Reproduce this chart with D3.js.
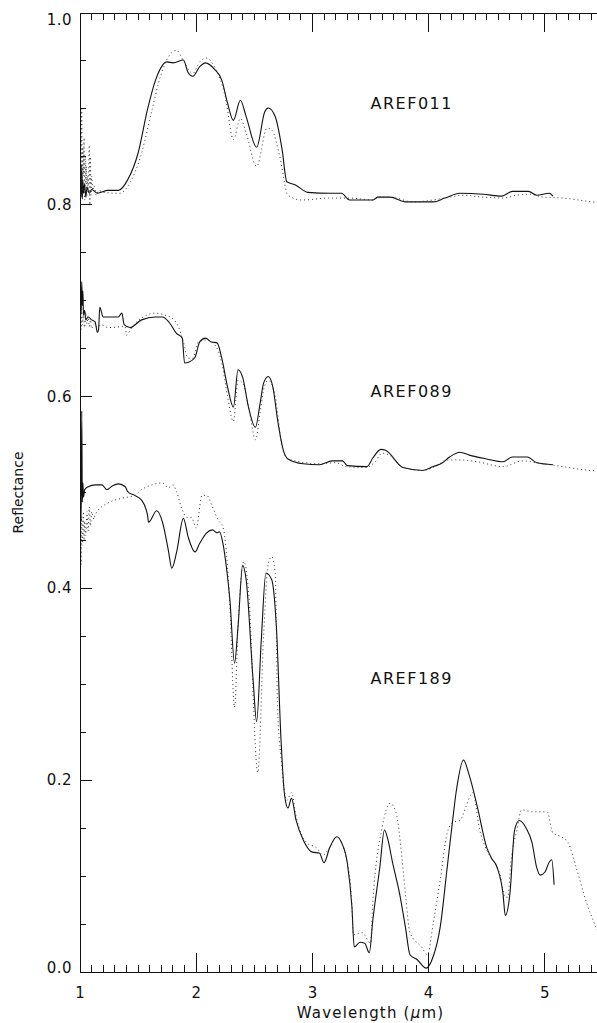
<!DOCTYPE html>
<html>
<head>
<meta charset="utf-8">
<script src="https://cdn.jsdelivr.net/npm/d3@7"></script>
<style>
    body { margin: 0; background: #fff; }
    svg text { font-family: "DejaVu Sans", "Liberation Sans", sans-serif; fill: #111; }
</style>
</head>
<body>
<svg id="chart" width="597" height="1023"></svg>
<script>
// data: [wavelength (um), reflectance]
const aref011Solid = [
    [1.00,0.800],[1.005,0.830],[1.01,0.808],[1.015,0.842],[1.02,0.806],[1.025,0.826],[1.03,0.812],[1.04,0.822],
    [1.05,0.808],[1.06,0.818],[1.08,0.812],[1.10,0.816],[1.15,0.812],[1.24,0.815],[1.33,0.815],[1.41,0.826],
    [1.50,0.854],[1.58,0.899],[1.65,0.930],[1.75,0.949],[1.80,0.948],[1.89,0.951],[1.93,0.938],[1.97,0.934],
    [2.03,0.944],[2.08,0.948],[2.16,0.941],[2.22,0.930],[2.27,0.906],[2.32,0.888],[2.38,0.909],[2.43,0.892],
    [2.52,0.860],[2.59,0.897],[2.62,0.901],[2.68,0.892],[2.74,0.857],[2.78,0.824],[2.85,0.821],[2.96,0.813],
    [3.15,0.812],[3.25,0.812],[3.32,0.805],[3.52,0.805],[3.56,0.808],[3.67,0.808],[3.80,0.803],[3.91,0.803],
    [4.04,0.803],[4.14,0.807],[4.27,0.812],[4.47,0.811],[4.63,0.809],[4.72,0.814],[4.86,0.814],[4.93,0.810],
    [5.04,0.812],[5.07,0.809]
];
const aref011Dotted = [
    [1.00,0.840],[1.005,0.880],[1.01,0.820],[1.015,0.900],[1.02,0.810],[1.025,0.860],[1.03,0.830],[1.035,0.870],
    [1.04,0.805],[1.045,0.850],[1.05,0.820],[1.055,0.840],[1.06,0.810],[1.065,0.830],[1.07,0.815],[1.08,0.862],
    [1.085,0.800],[1.09,0.850],[1.095,0.810],[1.10,0.830],[1.11,0.815],[1.12,0.820],[1.14,0.810],[1.16,0.815],
    [1.20,0.813],[1.34,0.812],[1.43,0.823],[1.53,0.854],[1.62,0.899],[1.69,0.933],[1.76,0.954],[1.83,0.961],
    [1.90,0.948],[1.97,0.937],[2.03,0.949],[2.09,0.953],[2.16,0.943],[2.25,0.913],[2.32,0.868],[2.38,0.890],
    [2.43,0.875],[2.52,0.840],[2.61,0.880],[2.65,0.878],[2.72,0.850],[2.79,0.810],[2.91,0.805],[3.14,0.807],
    [3.32,0.807],[3.52,0.805],[3.58,0.808],[3.72,0.807],[3.86,0.803],[4.04,0.805],[4.18,0.808],[4.29,0.810],
    [4.47,0.808],[4.64,0.807],[4.76,0.810],[4.87,0.811],[4.98,0.808],[5.16,0.807],[5.41,0.803],[5.50,0.802]
];
const aref089Solid = [
    [1.00,0.690],[1.005,0.700],[1.01,0.686],[1.015,0.720],[1.02,0.695],[1.025,0.710],[1.03,0.685],[1.04,0.690],
    [1.05,0.680],[1.07,0.683],[1.10,0.680],[1.13,0.678],[1.15,0.667],[1.16,0.670],[1.17,0.693],[1.20,0.683],
    [1.33,0.683],[1.36,0.687],[1.38,0.675],[1.43,0.672],[1.53,0.680],[1.65,0.683],[1.71,0.683],[1.77,0.677],
    [1.83,0.666],[1.88,0.661],[1.90,0.635],[1.94,0.636],[1.99,0.641],[2.03,0.657],[2.08,0.661],[2.13,0.657],
    [2.18,0.656],[2.22,0.640],[2.27,0.610],[2.32,0.589],[2.36,0.628],[2.40,0.620],[2.45,0.589],[2.51,0.568],
    [2.55,0.593],[2.58,0.614],[2.62,0.621],[2.66,0.610],[2.70,0.576],[2.75,0.544],[2.79,0.535],[2.92,0.530],
    [3.06,0.529],[3.17,0.533],[3.26,0.533],[3.30,0.528],[3.47,0.527],[3.52,0.536],[3.59,0.545],[3.63,0.544],
    [3.78,0.526],[3.95,0.523],[4.04,0.527],[4.12,0.531],[4.18,0.537],[4.27,0.542],[4.35,0.539],[4.50,0.535],
    [4.64,0.532],[4.72,0.537],[4.85,0.537],[4.93,0.531],[5.07,0.529]
];
const aref089Dotted = [
    [1.00,0.680],[1.005,0.690],[1.01,0.670],[1.015,0.695],[1.02,0.675],[1.03,0.685],[1.04,0.672],[1.05,0.688],
    [1.06,0.676],[1.07,0.684],[1.08,0.673],[1.09,0.680],[1.10,0.671],[1.12,0.676],[1.15,0.672],[1.18,0.675],
    [1.24,0.672],[1.39,0.673],[1.40,0.664],[1.45,0.673],[1.53,0.682],[1.65,0.687],[1.73,0.685],[1.79,0.682],
    [1.85,0.672],[1.89,0.657],[1.93,0.640],[1.97,0.640],[2.02,0.657],[2.09,0.659],[2.16,0.654],[2.22,0.635],
    [2.27,0.600],[2.32,0.574],[2.36,0.617],[2.40,0.614],[2.46,0.583],[2.51,0.555],[2.55,0.583],[2.58,0.607],
    [2.62,0.617],[2.68,0.600],[2.74,0.547],[2.79,0.535],[3.06,0.530],[3.20,0.531],[3.29,0.527],[3.46,0.526],
    [3.54,0.532],[3.60,0.541],[3.66,0.539],[3.78,0.526],[3.95,0.523],[4.07,0.528],[4.16,0.534],[4.27,0.534],
    [4.42,0.532],[4.64,0.527],[4.81,0.533],[4.93,0.531],[5.10,0.528],[5.39,0.523],[5.50,0.522]
];
const aref189Solid = [
    [1.00,0.455],[1.005,0.500],[1.01,0.470],[1.015,0.585],[1.02,0.490],[1.025,0.510],[1.03,0.495],[1.04,0.503],
    [1.07,0.506],[1.13,0.508],[1.19,0.508],[1.23,0.503],[1.28,0.507],[1.33,0.509],[1.39,0.506],[1.41,0.501],
    [1.47,0.497],[1.53,0.492],[1.58,0.477],[1.59,0.469],[1.66,0.481],[1.71,0.469],[1.76,0.440],[1.79,0.421],
    [1.83,0.437],[1.89,0.473],[1.93,0.454],[1.99,0.438],[2.03,0.447],[2.09,0.458],[2.14,0.461],[2.18,0.458],
    [2.20,0.459],[2.23,0.447],[2.26,0.422],[2.29,0.388],[2.33,0.322],[2.36,0.360],[2.40,0.424],[2.43,0.409],
    [2.49,0.304],[2.52,0.261],[2.56,0.346],[2.60,0.416],[2.65,0.409],[2.69,0.360],[2.73,0.242],[2.76,0.185],
    [2.79,0.171],[2.82,0.181],[2.86,0.158],[2.92,0.138],[3.00,0.125],[3.06,0.124],[3.10,0.114],[3.15,0.130],
    [3.21,0.141],[3.25,0.135],[3.30,0.114],[3.34,0.068],[3.36,0.026],[3.41,0.031],[3.45,0.030],[3.49,0.020],
    [3.52,0.054],[3.58,0.109],[3.62,0.148],[3.65,0.138],[3.69,0.114],[3.75,0.082],[3.80,0.047],[3.84,0.018],
    [3.90,0.013],[3.98,0.004],[4.03,0.013],[4.10,0.047],[4.16,0.109],[4.20,0.151],[4.24,0.190],[4.30,0.221],
    [4.35,0.205],[4.42,0.172],[4.50,0.130],[4.54,0.119],[4.59,0.109],[4.64,0.082],[4.66,0.059],[4.70,0.082],
    [4.74,0.148],[4.78,0.158],[4.84,0.150],[4.89,0.135],[4.93,0.109],[4.96,0.101],[5.00,0.104],[5.04,0.115],
    [5.06,0.117],[5.08,0.091]
];
const aref189Dotted = [
    [1.00,0.440],[1.005,0.470],[1.01,0.425],[1.015,0.475],[1.02,0.445],[1.03,0.480],[1.035,0.450],[1.04,0.470],
    [1.05,0.455],[1.06,0.480],[1.07,0.460],[1.08,0.485],[1.09,0.465],[1.10,0.480],[1.12,0.472],[1.13,0.477],
    [1.24,0.489],[1.36,0.494],[1.47,0.497],[1.53,0.503],[1.62,0.508],[1.71,0.510],[1.76,0.505],[1.80,0.508],
    [1.83,0.501],[1.88,0.482],[1.92,0.474],[1.96,0.474],[2.00,0.463],[2.05,0.497],[2.09,0.497],[2.14,0.485],
    [2.19,0.471],[2.23,0.464],[2.26,0.437],[2.29,0.381],[2.33,0.276],[2.36,0.360],[2.39,0.416],[2.41,0.428],
    [2.45,0.398],[2.53,0.208],[2.58,0.350],[2.62,0.426],[2.65,0.433],[2.68,0.416],[2.70,0.276],[2.73,0.224],
    [2.78,0.179],[2.82,0.187],[2.86,0.162],[2.95,0.135],[3.04,0.129],[3.09,0.122],[3.15,0.130],[3.21,0.141],
    [3.30,0.114],[3.34,0.070],[3.35,0.039],[3.43,0.041],[3.50,0.030],[3.52,0.072],[3.60,0.151],[3.67,0.176],
    [3.72,0.166],[3.77,0.120],[3.80,0.082],[3.84,0.041],[3.94,0.026],[3.99,0.018],[4.04,0.051],[4.10,0.096],
    [4.16,0.145],[4.21,0.156],[4.27,0.158],[4.32,0.172],[4.38,0.187],[4.44,0.148],[4.50,0.127],[4.55,0.117],
    [4.61,0.103],[4.66,0.078],[4.68,0.078],[4.71,0.117],[4.76,0.148],[4.80,0.169],[4.90,0.167],[5.02,0.167],
    [5.07,0.145],[5.14,0.141],[5.20,0.135],[5.27,0.109],[5.36,0.072],[5.45,0.044],[5.50,0.030]
];
const sampleNames = ["AREF011", "AREF089", "AREF189"];
const sampleLabelPos = [[3.5, 0.9], [3.5, 0.6], [3.5, 0.3]];
const xMajorTicks = [1, 2, 3, 4, 5];
const yMajorTicks = [0, 0.2, 0.4, 0.6, 0.8, 1.0];

// layout
const svg = d3.select('#chart');
const plot = {left: 80, right: 661, top: 13, bottom: 972};
const x = d3.scaleLinear().domain([1, 6]).range([plot.left, plot.right]);
const y = d3.scaleLinear().domain([0, 1]).range([plot.bottom, plot.top]);

svg.append('defs').append('clipPath').attr('id', 'clip')
    .append('rect')
    .attr('x', plot.left).attr('y', plot.top)
    .attr('width', plot.right - plot.left).attr('height', plot.bottom - plot.top);

// spectra
const line = d3.line().x(d => x(d[0])).y(d => y(d[1])).curve(d3.curveMonotoneX);
const spectra = [
    {data: aref011Solid, dotted: false}, {data: aref011Dotted, dotted: true},
    {data: aref089Solid, dotted: false}, {data: aref089Dotted, dotted: true},
    {data: aref189Solid, dotted: false}, {data: aref189Dotted, dotted: true},
];
svg.append('g').attr('clip-path', 'url(#clip)')
    .selectAll('path')
    .data(spectra)
    .join('path')
    .attr('d', d => line(d.data))
    .attr('fill', 'none')
    .attr('stroke', d => d.dotted ? '#333' : '#111')
    .attr('stroke-width', d => d.dotted ? 1 : 1.1)
    .attr('stroke-dasharray', d => d.dotted ? '1,3' : null);

// frame with inward ticks
const frame = svg.append('g').attr('stroke', '#111').attr('stroke-width', 1).attr('shape-rendering', 'crispEdges');
frame.append('rect')
    .attr('x', plot.left).attr('y', plot.top)
    .attr('width', plot.right - plot.left).attr('height', plot.bottom - plot.top)
    .attr('fill', 'none');

const xMinor = d3.range(10, 61).map(v => v / 10);
xMinor.forEach(v => {
    const major = Math.abs(v - Math.round(v)) < 1e-9;
    const len = major ? 19 : 7;
    frame.append('line').attr('x1', x(v)).attr('x2', x(v)).attr('y1', plot.bottom).attr('y2', plot.bottom - len);
    frame.append('line').attr('x1', x(v)).attr('x2', x(v)).attr('y1', plot.top).attr('y2', plot.top + len);
});
const yMinor = d3.range(0, 21).map(v => v / 20);
yMinor.forEach(v => {
    const major = Math.abs(v * 5 - Math.round(v * 5)) < 1e-9;
    const len = major ? 12 : 6;
    frame.append('line').attr('y1', y(v)).attr('y2', y(v)).attr('x1', plot.left).attr('x2', plot.left + len);
    frame.append('line').attr('y1', y(v)).attr('y2', y(v)).attr('x1', plot.right).attr('x2', plot.right - len);
});

// tick labels
svg.append('g').selectAll('text')
    .data(xMajorTicks)
    .join('text')
    .attr('x', d => x(d))
    .attr('y', plot.bottom + 26)
    .attr('text-anchor', 'middle')
    .attr('font-size', 15)
    .text(d => d);

svg.append('g').selectAll('text')
    .data(yMajorTicks)
    .join('text')
    .attr('x', plot.left - 8)
    .attr('y', d => Math.min(Math.max(y(d) + 5, plot.top + 12), plot.bottom + 1))
    .attr('text-anchor', 'end')
    .attr('font-size', 15)
    .attr('letter-spacing', 0.5)
    .text(d => d.toFixed(1));

// axis titles
svg.append('text')
    .attr('x', (plot.left + plot.right) / 2)
    .attr('y', 1018)
    .attr('text-anchor', 'middle')
    .attr('font-size', 15)
    .attr('letter-spacing', 1.2)
    .html('Wavelength (<tspan font-style="italic">μ</tspan>m)');

svg.append('text')
    .attr('transform', `translate(23, ${(plot.top + plot.bottom) / 2}) rotate(-90)`)
    .attr('text-anchor', 'middle')
    .attr('font-size', 14)
    .text('Reflectance');

// sample labels
svg.append('g').selectAll('text')
    .data(sampleNames)
    .join('text')
    .attr('x', (d, i) => x(sampleLabelPos[i][0]))
    .attr('y', (d, i) => y(sampleLabelPos[i][1]))
    .attr('font-size', 16)
    .attr('letter-spacing', 1.5)
    .text(d => d);
</script>
</body>
</html>
